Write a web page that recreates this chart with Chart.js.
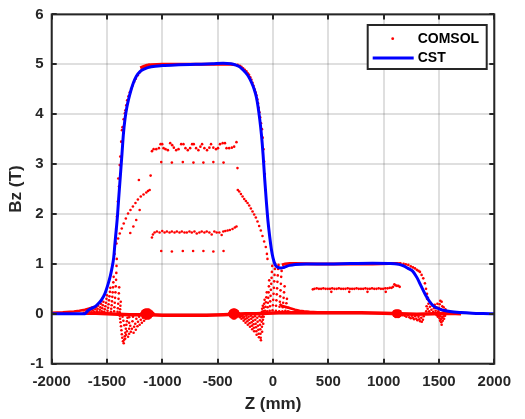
<!DOCTYPE html>
<html>
<head>
<meta charset="utf-8">
<script src="https://cdn.jsdelivr.net/npm/chart.js@4.4.0/dist/chart.umd.min.js"></script>
<style>
  html, body { margin: 0; padding: 0; background: #fff; }
</style>
</head>
<body>
<canvas id="chart" width="525" height="419"></canvas>
<script>
// ---- axes ----
const zTicks = [-2000, -1500, -1000, -500, 0, 500, 1000, 1500, 2000];
const bzTicks = [-1, 0, 1, 2, 3, 4, 5, 6];

// ---- CST (solid blue line) ----
const cstZ = [-2000, -1800, -1700, -1690, -1670, -1640, -1610, -1580, -1550, -1520, -1490, -1470, -1455, -1440, -1428, -1416, -1405, -1395, -1385, -1375, -1365, -1352, -1338, -1320, -1305, -1285, -1263, -1235, -1200, -1160, -1100, -1000, -850, -700, -550, -450, -380, -340, -310, -280, -250, -220, -195, -170, -150, -135, -120, -105, -90, -75, -60, -45, -30, -15, 0, 20, 45, 70, 90, 115, 150, 200, 300, 500, 700, 900, 1050, 1100, 1140, 1180, 1220, 1260, 1300, 1340, 1380, 1420, 1460, 1500, 1550, 1600, 1700, 1800, 1900, 2000];
const cstBz = [0, 0, 0, 0.02, 0.07, 0.11, 0.14, 0.2, 0.28, 0.4, 0.6, 0.76, 0.92, 1.12, 1.42, 1.7, 1.98, 2.3, 2.6, 2.9, 3.2, 3.6, 3.9, 4.15, 4.3, 4.47, 4.62, 4.76, 4.86, 4.91, 4.95, 4.975, 4.99, 5.0, 5.01, 5.02, 5.01, 4.99, 4.96, 4.91, 4.84, 4.75, 4.64, 4.5, 4.34, 4.15, 3.9, 3.6, 3.2, 2.7, 2.25, 1.85, 1.55, 1.3, 1.12, 0.98, 0.93, 0.92, 0.925, 0.945, 0.97, 0.99, 1.0, 1.0, 1.01, 1.015, 1.01, 1.005, 0.99, 0.96, 0.91, 0.86, 0.73, 0.55, 0.37, 0.23, 0.14, 0.1, 0.065, 0.045, 0.025, 0.012, 0.005, 0];

// ---- COMSOL, dense stretches (drawn as thick red strokes) ----
const comsolTop = [[-1200, 4.93], [-1170, 4.96], [-1140, 4.98], [-1100, 4.99], [-1000, 5.0], [-800, 5.0], [-600, 5.0], [-450, 5.0], [-380, 5.0], [-340, 4.99]];
const comsolStep = [[80, 0.98], [110, 1.0], [150, 1.01], [200, 1.01], [400, 1.0], [700, 1.0], [900, 1.0], [1050, 1.01], [1120, 1.01], [1160, 1.0]];
const comsolTail = [[-2000, 0.02], [-1900, 0.03], [-1800, 0.045], [-1750, 0.06], [-1700, 0.08], [-1660, 0.11], [-1620, 0.14]];
const comsolBase = [[-1720, 0.01], [-1600, 0.01], [-1500, 0.0], [-1400, -0.01], [-1300, -0.02], [-1200, -0.02], [-1100, -0.02], [-1000, -0.03], [-800, -0.03], [-600, -0.03], [-450, -0.02], [-350, -0.01], [-250, 0.0], [-150, 0.0], [-50, 0.01], [50, 0.02], [200, 0.02], [500, 0.02], [800, 0.02], [1000, 0.01], [1150, 0.0], [1300, -0.01], [1450, 0.0], [1600, 0.01], [1700, 0.0]];
const comsolBranch = [[60, 0.2], [80, 0.16], [110, 0.14], [140, 0.12], [170, 0.1], [200, 0.08], [240, 0.06], [280, 0.05], [330, 0.04], [400, 0.03]];

// ---- COMSOL, scattered points ----
const leftRise = [[-1432, 1.2], [-1424, 1.45], [-1418, 1.7], [-1410, 1.95], [-1402, 2.25], [-1398, 2.71], [-1392, 2.55], [-1385, 2.98], [-1380, 3.15], [-1372, 3.45], [-1365, 3.68], [-1360, 3.74], [-1350, 3.9], [-1339, 4.02], [-1334, 4.08], [-1326, 4.18], [-1318, 4.28], [-1306, 4.36], [-1294, 4.44], [-1282, 4.51], [-1270, 4.57], [-1255, 4.65], [-1240, 4.71], [-1222, 4.78], [-1204, 4.84], [-1185, 4.9], [-1165, 4.94], [-1144, 4.97], [-1120, 4.99]];
const rightFall = [[-320, 4.99], [-300, 4.97], [-285, 4.95], [-270, 4.92], [-255, 4.89], [-240, 4.86], [-228, 4.82], [-216, 4.79], [-205, 4.74], [-195, 4.69], [-185, 4.63], [-176, 4.57], [-167, 4.5], [-158, 4.44], [-150, 4.38], [-142, 4.3], [-135, 4.22], [-129, 4.13], [-123, 4.04], [-116, 3.94], [-108, 3.82], [-100, 3.7], [-93, 3.53], [-86, 3.3], [-80, 3.05], [-74, 2.8]];
const rowUpper = [[-1094, 3.26], [-1079, 3.3], [-1055, 3.3], [-1031, 3.32], [-1016, 3.4], [-1001, 3.4], [-989, 3.32], [-971, 3.3], [-950, 3.28], [-929, 3.42], [-911, 3.38], [-896, 3.33], [-875, 3.28], [-854, 3.3], [-830, 3.4], [-809, 3.4], [-791, 3.32], [-770, 3.28], [-749, 3.32], [-731, 3.4], [-716, 3.4], [-695, 3.32], [-674, 3.28], [-656, 3.35], [-641, 3.4], [-620, 3.32], [-596, 3.28], [-575, 3.33], [-560, 3.4], [-539, 3.33], [-515, 3.3], [-497, 3.32], [-479, 3.4], [-455, 3.42], [-434, 3.42], [-420, 3.32], [-396, 3.32], [-372, 3.33], [-351, 3.35], [-330, 3.44]];
const rowUpperSparse = [[-1010, 3.04], [-914, 3.03], [-815, 3.04], [-719, 3.03], [-629, 3.03], [-539, 3.04], [-447, 3.03]];
const rowMid = [[-1094, 1.53], [-1085, 1.59], [-1070, 1.63], [-1049, 1.65], [-1025, 1.63], [-1001, 1.66], [-980, 1.63], [-959, 1.65], [-935, 1.63], [-914, 1.65], [-890, 1.63], [-869, 1.65], [-845, 1.63], [-824, 1.65], [-800, 1.63], [-779, 1.63], [-755, 1.65], [-734, 1.63], [-710, 1.65], [-689, 1.61], [-665, 1.63], [-644, 1.65], [-620, 1.63], [-599, 1.65], [-575, 1.63], [-554, 1.59], [-530, 1.65], [-509, 1.63], [-485, 1.63], [-464, 1.58], [-449, 1.65], [-431, 1.66], [-410, 1.67], [-390, 1.68], [-366, 1.7], [-345, 1.73], [-330, 1.75]];
const rowMidSparse = [[-1010, 1.26], [-914, 1.25], [-815, 1.26], [-722, 1.26], [-629, 1.26], [-539, 1.25], [-447, 1.26]];
const lone = [[-1106, 2.77], [-1212, 2.68], [-321, 2.92]];
const leftSlope = [[-1415, 1.41], [-1400, 1.51], [-1385, 1.61], [-1367, 1.71], [-1349, 1.81], [-1330, 1.91], [-1310, 2.01], [-1288, 2.08], [-1266, 2.15], [-1243, 2.22], [-1221, 2.29], [-1195, 2.35], [-1170, 2.39], [-1145, 2.43], [-1130, 2.46], [-1115, 2.48], [-1290, 1.62], [-1262, 1.75], [-1236, 1.88], [-1205, 2.08]];
const rightSlope = [[-318, 2.48], [-305, 2.45], [-290, 2.4], [-275, 2.35], [-260, 2.3], [-245, 2.26], [-230, 2.22], [-215, 2.17], [-200, 2.11], [-185, 2.05], [-170, 1.99], [-155, 1.93], [-140, 1.85], [-125, 1.76], [-110, 1.67], [-95, 1.56], [-80, 1.45], [-65, 1.34], [-55, 1.2], [-50, 1.1]];
const fanLeftUp = [[-1660, 0.04], [-1650, 0.08], [-1640, 0.03], [-1630, 0.07], [-1625, 0.11], [-1615, 0.04], [-1605, 0.09], [-1600, 0.13], [-1590, 0.05], [-1585, 0.1], [-1580, 0.16], [-1570, 0.03], [-1565, 0.08], [-1560, 0.13], [-1555, 0.2], [-1548, 0.05], [-1543, 0.11], [-1538, 0.17], [-1533, 0.24], [-1525, 0.04], [-1520, 0.09], [-1515, 0.15], [-1510, 0.22], [-1505, 0.3], [-1500, 0.37], [-1495, 0.06], [-1490, 0.12], [-1486, 0.19], [-1482, 0.27], [-1478, 0.35], [-1474, 0.44], [-1470, 0.52], [-1465, 0.04], [-1462, 0.1], [-1458, 0.17], [-1455, 0.25], [-1452, 0.34], [-1449, 0.43], [-1446, 0.53], [-1443, 0.63], [-1440, 0.74], [-1436, 0.05], [-1433, 0.13], [-1430, 0.22], [-1427, 0.32], [-1424, 0.43], [-1421, 0.55], [-1418, 0.68], [-1416, 0.82], [-1414, 0.96], [-1412, 1.1], [-1405, 0.04], [-1402, 0.11], [-1399, 0.2], [-1396, 0.3], [-1393, 0.41], [-1390, 0.53], [-1385, 0.03], [-1382, 0.09], [-1379, 0.16], [-1376, 0.24]];
const fanLeftDown = [[-1385, -0.04], [-1382, -0.1], [-1378, -0.17], [-1374, -0.25], [-1370, -0.33], [-1366, -0.41], [-1362, -0.48], [-1356, -0.55], [-1349, -0.59], [-1345, -0.52], [-1340, -0.45], [-1335, -0.38], [-1330, -0.3], [-1325, -0.22], [-1320, -0.15], [-1315, -0.08], [-1360, -0.06], [-1352, -0.14], [-1344, -0.23], [-1336, -0.5], [-1328, -0.42], [-1320, -0.35], [-1310, -0.46], [-1300, -0.4], [-1300, -0.3], [-1300, -0.18], [-1300, -0.07], [-1290, -0.24], [-1285, -0.36], [-1275, -0.3], [-1270, -0.15], [-1265, -0.06], [-1260, -0.38], [-1255, -0.26], [-1245, -0.2], [-1240, -0.32], [-1235, -0.1], [-1225, -0.25], [-1220, -0.16], [-1210, -0.06], [-1205, -0.22], [-1195, -0.12], [-1185, -0.18], [-1175, -0.08], [-1165, -0.14], [-1150, -0.1], [-1140, -0.06]];
const fanRightDown = [[-320, -0.03], [-305, -0.04], [-300, -0.07], [-290, -0.05], [-285, -0.1], [-275, -0.04], [-270, -0.08], [-265, -0.14], [-258, -0.06], [-252, -0.11], [-248, -0.18], [-240, -0.04], [-236, -0.09], [-232, -0.15], [-228, -0.22], [-220, -0.06], [-216, -0.12], [-212, -0.19], [-208, -0.26], [-200, -0.04], [-197, -0.1], [-194, -0.17], [-191, -0.24], [-188, -0.31], [-182, -0.07], [-179, -0.14], [-176, -0.21], [-173, -0.28], [-170, -0.35], [-163, -0.05], [-160, -0.12], [-157, -0.2], [-154, -0.27], [-151, -0.35], [-148, -0.42], [-142, -0.08], [-139, -0.16], [-136, -0.24], [-133, -0.32], [-130, -0.4], [-127, -0.47], [-122, -0.05], [-119, -0.13], [-117, -0.22], [-115, -0.31], [-113, -0.4], [-111, -0.48], [-109, -0.53], [-104, -0.07], [-102, -0.16], [-100, -0.26], [-98, -0.36], [-94, -0.05], [-91, -0.12], [-88, -0.2], [-84, -0.06]];
const fanRightUp = [[-100, 0.04], [-98, 0.1], [-92, 0.16], [-88, 0.05], [-84, 0.12], [-80, 0.2], [-76, 0.28], [-72, 0.06], [-68, 0.14], [-64, 0.23], [-60, 0.33], [-56, 0.43], [-52, 0.05], [-49, 0.13], [-46, 0.22], [-43, 0.32], [-40, 0.43], [-37, 0.55], [-34, 0.67], [-30, 0.06], [-28, 0.15], [-25, 0.25], [-22, 0.36], [-19, 0.48], [-16, 0.6], [-13, 0.72], [-10, 0.84], [-7, 0.96], [-4, 0.07], [-1, 0.17], [2, 0.28], [5, 0.4], [8, 0.52], [11, 0.65], [14, 0.78], [17, 0.9], [20, 1.0], [26, 0.06], [28, 0.16], [31, 0.27], [34, 0.39], [37, 0.51], [40, 0.64], [43, 0.77], [46, 0.9], [50, 0.98], [56, 0.05], [59, 0.14], [62, 0.24], [65, 0.35], [68, 0.47], [71, 0.6], [74, 0.74], [78, 0.86], [85, 0.05], [88, 0.13], [92, 0.22], [96, 0.32], [100, 0.43], [105, 0.55], [112, 0.06], [116, 0.13], [121, 0.21], [126, 0.3], [135, 0.05], [140, 0.12], [148, 0.04]];
const stepFall = [[1150, 1.01], [1180, 1.0], [1200, 0.99], [1223, 0.98], [1245, 0.95], [1265, 0.93], [1283, 0.91], [1300, 0.88], [1315, 0.86], [1328, 0.84], [1343, 0.78], [1358, 0.71], [1373, 0.61], [1383, 0.5], [1392, 0.4], [1400, 0.32]];
const stepFanDown = [[1170, -0.03], [1190, -0.04], [1205, -0.06], [1220, -0.03], [1232, -0.07], [1245, -0.09], [1255, -0.04], [1265, -0.08], [1275, -0.11], [1285, -0.05], [1295, -0.1], [1305, -0.13], [1315, -0.06], [1322, -0.11], [1330, -0.15], [1340, -0.08], [1345, -0.16], [1355, -0.12], [1362, -0.05]];
const edgeFanUp = [[1385, 0.05], [1388, 0.15], [1392, 0.3], [1398, 0.1], [1405, 0.2], [1412, 0.05], [1418, 0.14], [1425, 0.22], [1432, 0.08], [1440, 0.16], [1448, 0.04], [1455, 0.11], [1462, 0.18], [1470, 0.06], [1478, 0.13], [1486, 0.2], [1494, 0.05], [1500, 0.12], [1506, 0.19], [1512, 0.26], [1518, 0.09], [1524, 0.24], [1530, 0.15], [1536, 0.07], [1542, 0.13], [1550, 0.05], [1558, 0.09]];
const edgeFanDown = [[1480, -0.03], [1490, -0.06], [1500, -0.04], [1505, -0.09], [1510, -0.14], [1515, -0.05], [1518, -0.11], [1521, -0.17], [1524, -0.22], [1530, -0.08], [1534, -0.14], [1540, -0.05], [1546, -0.1], [1555, -0.04]];
const rowHalf = [[360, 0.49], [375, 0.5], [395, 0.51], [415, 0.5], [435, 0.5], [455, 0.51], [475, 0.5], [495, 0.5], [515, 0.5], [535, 0.51], [555, 0.5], [575, 0.5], [595, 0.51], [615, 0.5], [635, 0.5], [655, 0.5], [675, 0.51], [695, 0.5], [715, 0.5], [735, 0.5], [755, 0.51], [775, 0.5], [795, 0.5], [815, 0.5], [835, 0.51], [855, 0.5], [875, 0.5], [895, 0.51], [915, 0.5], [935, 0.5], [955, 0.51], [975, 0.5], [995, 0.5], [1015, 0.51], [1035, 0.51], [1055, 0.52], [1072, 0.52], [1085, 0.54], [1097, 0.59], [1108, 0.57], [1120, 0.56], [1133, 0.56], [1145, 0.54]];
const rowHalfSparse = [[527, 0.44], [689, 0.44], [854, 0.44], [1019, 0.44]];

// ---- COMSOL, clumps where points pile up on the axis ----
const clumpLeft = [[-1185, 0], [-1175, 0.04], [-1175, -0.04], [-1163, 0.06], [-1163, 0], [-1163, -0.06], [-1150, 0.07], [-1150, 0.02], [-1150, -0.03], [-1150, -0.07], [-1137, 0.07], [-1137, 0.02], [-1137, -0.03], [-1137, -0.08], [-1124, 0.07], [-1124, 0.01], [-1124, -0.05], [-1124, -0.08], [-1111, 0.05], [-1111, 0], [-1111, -0.06], [-1098, 0.03], [-1098, -0.03], [-1086, 0]];
const clumpMid = [[-392, 0], [-382, 0.04], [-382, -0.04], [-371, 0.06], [-371, 0], [-371, -0.06], [-359, 0.07], [-359, 0.01], [-359, -0.05], [-359, -0.08], [-347, 0.07], [-347, 0.01], [-347, -0.05], [-347, -0.08], [-335, 0.06], [-335, 0], [-335, -0.06], [-323, 0.04], [-323, -0.04], [-312, 0]];
const clumpRight = [[1088, 0.01], [1098, 0.04], [1098, -0.03], [1110, 0.05], [1110, 0.0], [1110, -0.05], [1122, 0.05], [1122, 0], [1122, -0.05], [1134, 0.05], [1134, 0], [1134, -0.05], [1146, 0.04], [1146, -0.03], [1157, 0]];

const RED = '#ff0000';
const BLUE = '#0000ff';
const INK = '#262626';
const FONT = "'Liberation Sans', Arial, sans-serif";

const pts = arr => arr.map(([x, y]) => ({ x, y }));

const comsolDots = [].concat(leftRise, rightFall, rowUpper, rowUpperSparse, rowMid, rowMidSparse, lone,
    leftSlope, rightSlope, fanLeftUp, fanLeftDown, fanRightDown, fanRightUp, stepFall, stepFanDown,
    edgeFanUp, edgeFanDown, rowHalf, rowHalfSparse);
const comsolClumps = [].concat(clumpLeft, clumpMid, clumpRight);

function stroke(arr, width) {
    return {
        data: pts(arr),
        showLine: true,
        borderColor: RED,
        borderWidth: width,
        pointRadius: 0,
        order: 3
    };
}

const datasets = [
    {
        label: 'CST',
        data: cstZ.map((z, i) => ({ x: z, y: cstBz[i] })),
        showLine: true,
        borderColor: BLUE,
        borderWidth: 3,
        pointRadius: 0,
        cubicInterpolationMode: 'monotone',
        order: 0
    },
    {
        label: 'COMSOL',
        data: pts(comsolDots),
        backgroundColor: RED,
        borderWidth: 0,
        pointRadius: 1.3,
        order: 1
    },
    {
        data: pts(comsolClumps),
        backgroundColor: RED,
        borderWidth: 0,
        pointRadius: 2,
        order: 2
    },
    stroke(comsolTop, 3),
    stroke(comsolStep, 3),
    stroke(comsolTail, 2.5),
    stroke(comsolBase, 3.5),
    stroke(comsolBranch, 2.5)
];

// box round the axes with inward ticks, MATLAB style
const axesBox = {
    id: 'axesBox',
    afterDatasetsDraw(chart) {
        const { ctx, chartArea: a, scales: { x, y } } = chart;
        const len = 5;
        ctx.save();
        ctx.strokeStyle = INK;
        ctx.lineWidth = 2;
        ctx.beginPath();
        zTicks.forEach(v => {
            const px = Math.round(x.getPixelForValue(v));
            ctx.moveTo(px, a.bottom); ctx.lineTo(px, a.bottom - len);
            ctx.moveTo(px, a.top); ctx.lineTo(px, a.top + len);
        });
        bzTicks.forEach(v => {
            const py = Math.round(y.getPixelForValue(v));
            ctx.moveTo(a.left, py); ctx.lineTo(a.left + len, py);
            ctx.moveTo(a.right, py); ctx.lineTo(a.right - len, py);
        });
        ctx.stroke();
        ctx.strokeRect(a.left, a.top, a.right - a.left, a.bottom - a.top);
        ctx.restore();
    }
};

// legend box in the top right corner
const legendBox = {
    id: 'legendBox',
    afterDraw(chart) {
        const { ctx, chartArea: a } = chart;
        const w = 119, h = 44;
        const left = a.right - 7.6 - w, top = a.top + 10.6;
        ctx.save();
        ctx.fillStyle = '#fff';
        ctx.fillRect(left, top, w, h);
        ctx.strokeStyle = INK;
        ctx.lineWidth = 2;
        ctx.strokeRect(left, top, w, h);

        const row1 = top + 13.7, row2 = top + 33;
        ctx.fillStyle = RED;
        ctx.beginPath();
        ctx.arc(left + 25, row1, 1.4, 0, Math.PI * 2);
        ctx.fill();

        ctx.strokeStyle = BLUE;
        ctx.lineWidth = 3;
        ctx.beginPath();
        ctx.moveTo(left + 5, row2);
        ctx.lineTo(left + 46, row2);
        ctx.stroke();

        ctx.fillStyle = '#000';
        ctx.font = 'bold 14px ' + FONT;
        ctx.textBaseline = 'middle';
        ctx.textAlign = 'left';
        ctx.fillText('COMSOL', left + 50, row1);
        ctx.fillText('CST', left + 50, row2);
        ctx.restore();
    }
};

const gridStyle = { color: 'rgba(38,38,38,0.15)', lineWidth: 2, drawTicks: false };
const tickFont = { family: FONT, size: 15, weight: 'bold' };
const titleFont = { family: FONT, size: 17, weight: 'bold' };

new Chart(document.getElementById('chart'), {
    type: 'scatter',
    data: { datasets },
    options: {
        responsive: false,
        animation: false,
        events: [],
        layout: { padding: { left: 0, top: 14.4, right: 30.7, bottom: 0 } },
        plugins: { legend: { display: false }, tooltip: { enabled: false } },
        scales: {
            x: {
                type: 'linear',
                min: -2000,
                max: 2000,
                afterBuildTicks: s => { s.ticks = zTicks.map(v => ({ value: v })); },
                afterFit: s => { s.height = 55.3; s.paddingLeft = 0; s.paddingRight = 0; },
                grid: gridStyle,
                border: { display: false },
                ticks: { font: tickFont, color: INK, padding: 9, maxRotation: 0, autoSkip: false, callback: v => String(v) },
                title: { display: true, text: 'Z (mm)', font: titleFont, color: INK, padding: { top: 0, bottom: 4 } }
            },
            y: {
                type: 'linear',
                min: -1,
                max: 6,
                afterBuildTicks: s => { s.ticks = bzTicks.map(v => ({ value: v })); },
                afterFit: s => { s.width = 51.7; s.paddingTop = 0; s.paddingBottom = 0; },
                grid: gridStyle,
                border: { display: false },
                ticks: { font: tickFont, color: INK, padding: 8, autoSkip: false, callback: v => String(v) },
                title: { display: true, text: 'Bz (T)', font: titleFont, color: INK, padding: { top: 6, bottom: 0 } }
            }
        }
    },
    plugins: [axesBox, legendBox]
});
</script>
</body>
</html>
